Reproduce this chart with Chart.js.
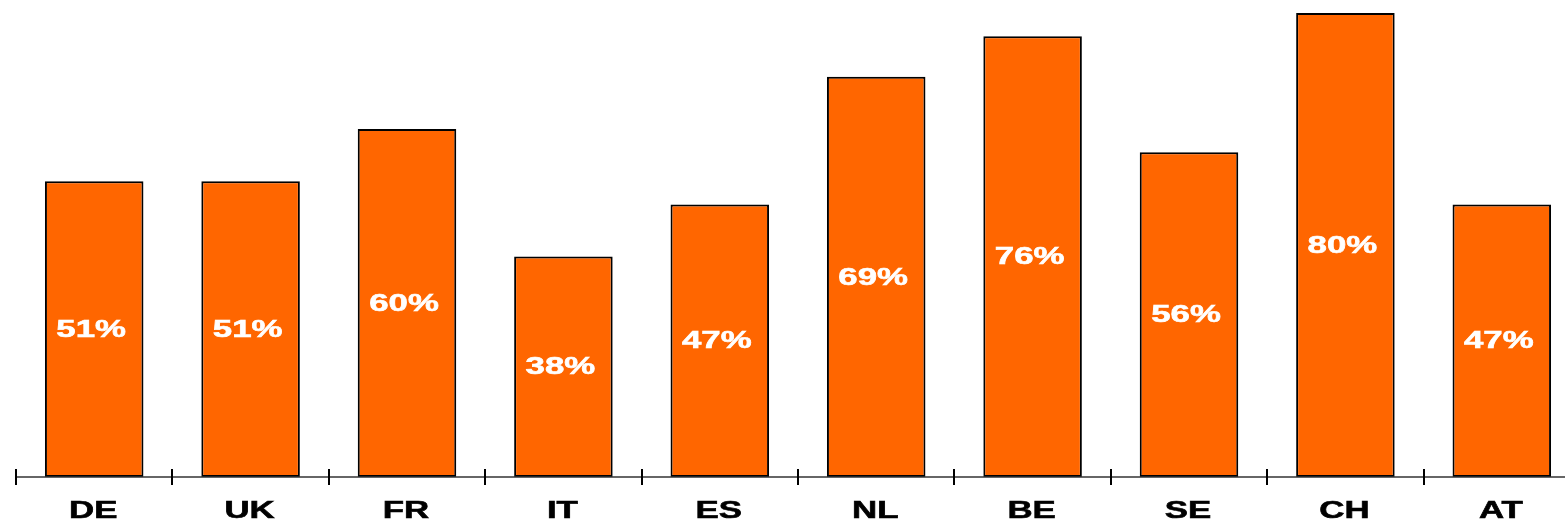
<!DOCTYPE html>
<html>
<head>
<meta charset="utf-8">
<script src="https://cdn.jsdelivr.net/npm/chart.js@4/dist/chart.umd.min.js"></script>
<style>
  html, body { margin: 0; padding: 0; background: #ffffff; overflow: hidden; }
  #wrap { width: 1565px; height: 522px; overflow: hidden; }
  canvas { display: block; }
</style>
</head>
<body>
<div id="wrap"><canvas id="chart" width="1580" height="522"></canvas></div>
<script>
// Country codes along the x axis
const countries = ['DE', 'UK', 'FR', 'IT', 'ES', 'NL', 'BE', 'SE', 'CH', 'AT'];
// Share per country, in percent
const shares = [51, 51, 60, 38, 47, 69, 76, 56, 80, 47];

const FONT = 'bold 24px "Liberation Sans", Arial, sans-serif';
const STRETCH = 1.45;

// Wide, horizontally stretched text
function wideText(ctx, text, x, y, color) {
  ctx.save();
  ctx.translate(x, y);
  ctx.scale(STRETCH, 1);
  ctx.font = FONT;
  ctx.fillStyle = color;
  ctx.strokeStyle = color;
  ctx.lineWidth = 0.6;
  ctx.textAlign = 'center';
  ctx.textBaseline = 'middle';
  ctx.fillText(text, 0, 0);
  ctx.strokeText(text, 0, 0);
  ctx.restore();
}

// Axis line, boundary ticks, category names and in-bar value labels
const decorations = {
  id: 'decorations',
  afterDatasetsDraw(chart) {
    const ctx = chart.ctx;
    const xs = chart.scales.x;
    const ys = chart.scales.y;
    const base = ys.getPixelForValue(0);
    const step = xs.getPixelForValue(1) - xs.getPixelForValue(0);

    ctx.save();
    ctx.strokeStyle = '#333333';
    ctx.lineWidth = 1.5;
    ctx.beginPath();
    ctx.moveTo(xs.getPixelForValue(0) - step / 2, base);
    ctx.lineTo(chart.width, base);
    ctx.stroke();

    ctx.strokeStyle = '#000000';
    ctx.lineWidth = 2;
    countries.forEach((c, i) => {
      const tx = Math.round(xs.getPixelForValue(i) - step / 2);
      ctx.beginPath();
      ctx.moveTo(tx, base - 8);
      ctx.lineTo(tx, base + 8);
      ctx.stroke();
    });
    ctx.restore();

    countries.forEach((c, i) => {
      const cx = xs.getPixelForValue(i);
      wideText(ctx, c, cx - 1, base + 34, '#000000');
      const top = ys.getPixelForValue(shares[i]);
      wideText(ctx, shares[i] + '%', cx - 3, (top + base) / 2 + 1, '#ffffff');
    });
  }
};

new Chart(document.getElementById('chart'), {
  type: 'bar',
  data: {
    labels: countries,
    datasets: [{
      data: shares,
      backgroundColor: '#FF6600',
      borderColor: '#000000',
      borderWidth: 2,
      borderSkipped: false,
      barPercentage: 0.63,
      categoryPercentage: 1.0
    }]
  },
  options: {
    responsive: false,
    animation: false,
    layout: { padding: { left: 16, right: 0, top: 0, bottom: 45 } },
    plugins: { legend: { display: false }, tooltip: { enabled: false } },
    scales: {
      x: { display: false, offset: true },
      y: { display: false, min: 0, max: 82.24 }
    }
  },
  plugins: [decorations]
});
</script>
</body>
</html>
